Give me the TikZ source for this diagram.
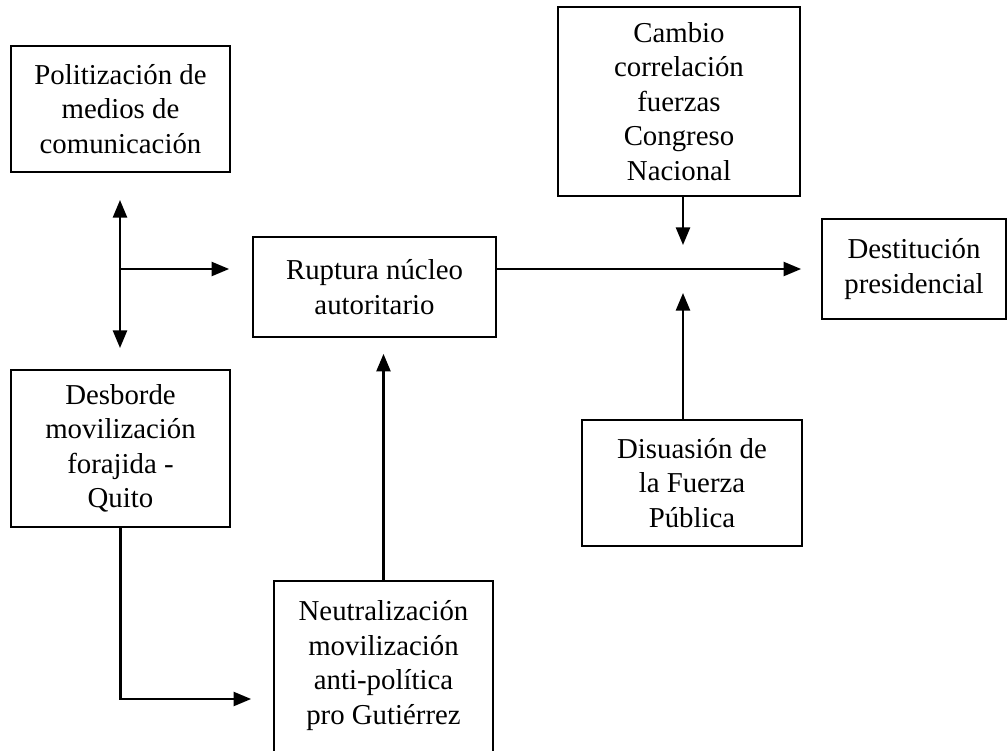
\documentclass[tikz,border=0pt]{standalone}
\usepackage{fontspec}
\setmainfont{Liberation Serif}
\usepackage{tikz}
\usetikzlibrary{arrows.meta,positioning,calc}

\begin{document}
\begin{tikzpicture}[x=0.025cm, y=-0.025cm,
    every node/.style={font=\fontsize{20.5}{24.5}\selectfont},
    caja/.style={draw, line width=1.2pt, align=center, inner sep=0pt},
    punta/.style={-{Triangle[length=12.5pt,width=10pt]}},
    flecha/.style={line width=1.6pt, punta}]
  \useasboundingbox (0,0) rectangle (1008,751);
  % cajas
  \node[caja, minimum width=5.475cm, minimum height=3.15cm] (poli) at (120.5,109)
    {Politización de\\medios de\\comunicación};
  \node[caja, minimum width=6.05cm, minimum height=4.725cm] (cambio) at (679,101.5)
    {Cambio\\correlación\\fuerzas\\Congreso\\Nacional};
  \node[caja, minimum width=6.075cm, minimum height=2.5cm] (rup) at (374.5,287)
    {Ruptura núcleo\\autoritario};
  \node[caja, minimum width=4.6cm, minimum height=2.5cm] (dest) at (914,269)
    {Destitución\\presidencial};
  \node[caja, minimum width=5.475cm, minimum height=3.925cm] (desb) at (120.5,448.5)
    {Desborde\\movilización\\forajida -\\Quito};
  \node[caja, minimum width=5.5cm, minimum height=3.15cm] (disu) at (692,483)
    {Disuasión de\\la Fuerza\\Pública};
  \node[caja, anchor=north] (neut) at (383.5,580)
    {\parbox[c][5cm][t]{5.475cm}{\centering\vspace*{0.5cm}Neutralización\\movilización\\anti-política\\pro Gutiérrez}};
  % puntos libres
  \coordinate (arr) at (120,200);
  \coordinate (aba) at (120,348);
  \coordinate (cruce) at (120,269);
  \coordinate (medio) at (683,269);
  \coordinate (bajo) at (120,699);
  % flechas
  \draw[flecha, {Triangle[length=12.5pt,width=10pt]}-{Triangle[length=12.5pt,width=10pt]}] (arr) -- (aba);
  \draw[flecha, shorten >=0.575cm] (cruce) -- (rup.west |- cruce);
  \draw[flecha, shorten >=0.5cm] (rup.east |- cruce) -- (dest.west |- cruce);
  \draw[flecha, shorten >=0.6cm] (cambio.south -| medio) -- (medio);
  \draw[flecha, shorten >=0.6cm] (disu.north -| medio) -- (medio);
  \draw[flecha, shorten >=0.4cm] (neut.north) -- (rup.south -| neut.north);
  \draw[flecha, shorten >=0.55cm] (desb.south) |- (neut.west |- bajo);
\end{tikzpicture}
\end{document}
